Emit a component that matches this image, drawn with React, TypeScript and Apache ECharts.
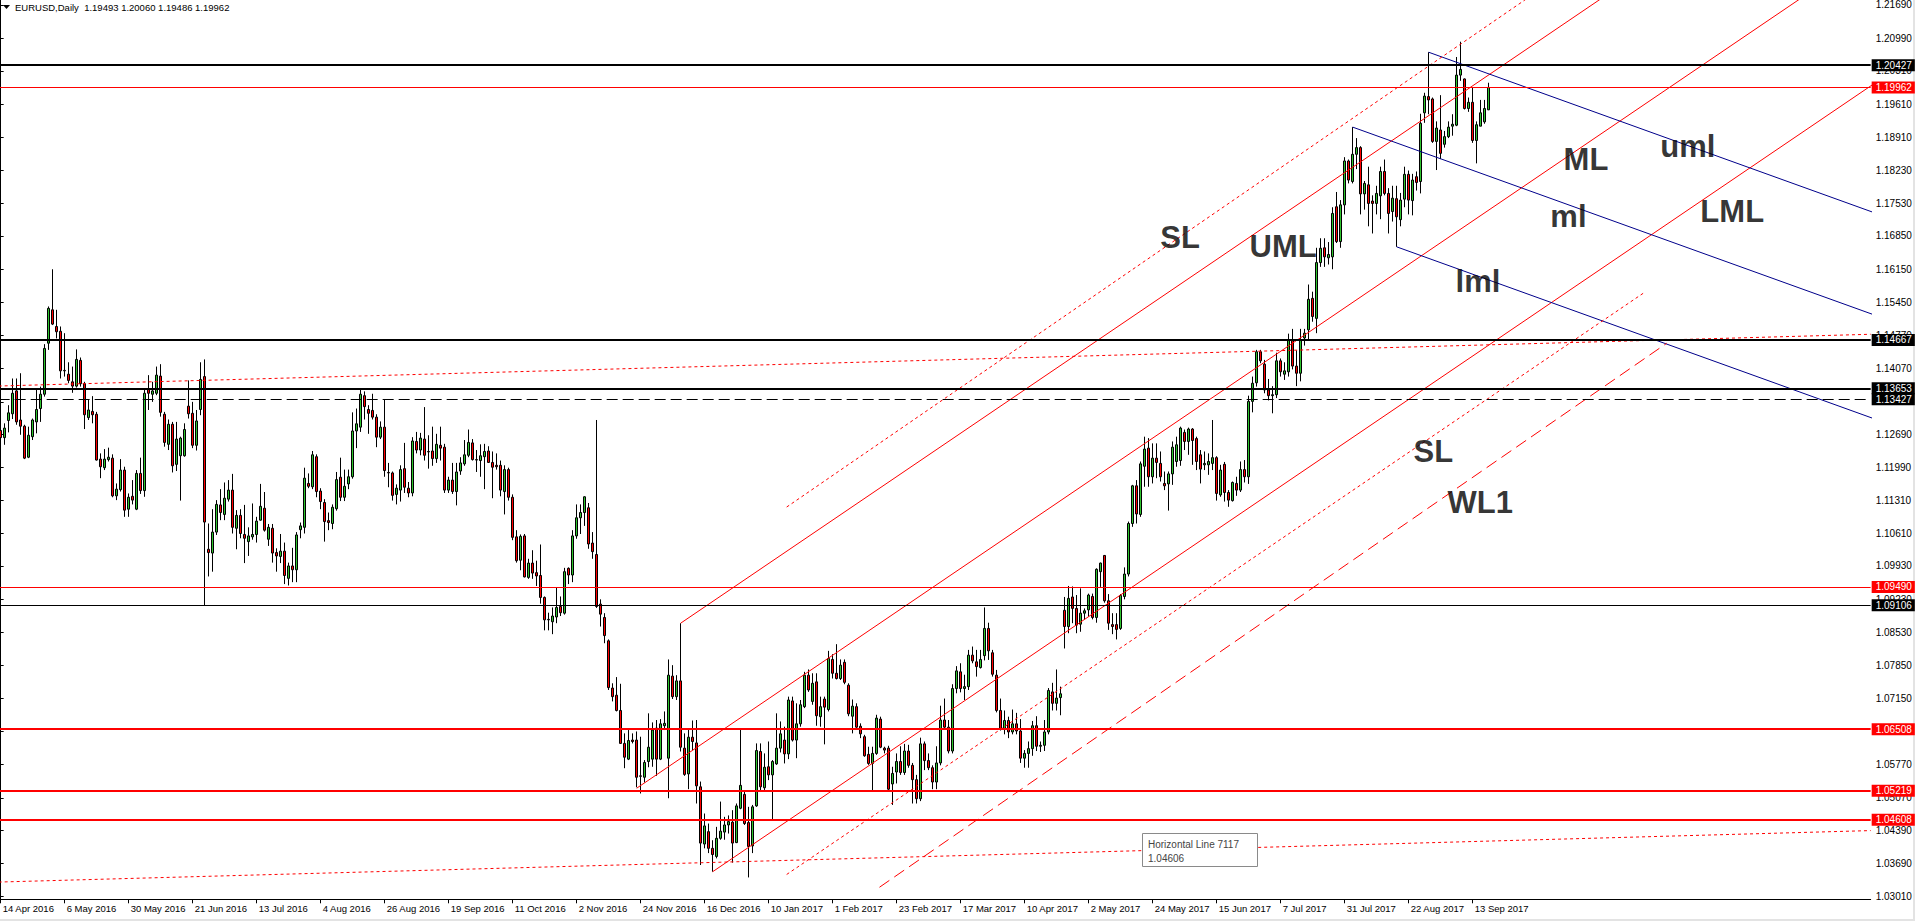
import React, { useEffect, useRef } from "react";
import * as echarts from "echarts";

// ---------- categories (trading days) ----------
const FIRST_DAY = "2016-04-14";
const SKIPPED_DAYS = ["2016-12-26"];
const BAR_COUNT = 373;
const SLOT_COUNT = 468;
const LABEL_EVERY = 16;
const MONTHS = ["Jan", "Feb", "Mar", "Apr", "May", "Jun", "Jul", "Aug", "Sep", "Oct", "Nov", "Dec"];

// ---------- price scale ----------
const PRICE_TOP = 1.217948;
const PRICE_BOTTOM = 1.029415;
const priceTicks = [
  1.2169, 1.2099, 1.2031, 1.1961, 1.1891, 1.1823, 1.1753, 1.1685, 1.1615, 1.1545, 1.1477, 1.1407, 1.1337, 1.1269,
  1.1199, 1.1131, 1.1061, 1.0993, 1.0923, 1.0853, 1.0785, 1.0715, 1.0647, 1.0577, 1.0507, 1.0439, 1.0369, 1.0301,
];

// ---------- daily candles [open, high, low, close] ----------
const candlesAprJun2016 = [
  [1.1277, 1.1289, 1.1233, 1.1262], [1.1262, 1.1292, 1.1247, 1.1282], [1.1298, 1.133, 1.1273, 1.1314], [1.1312, 1.1386, 1.1301, 1.1355],
  [1.136, 1.1386, 1.1289, 1.1295], [1.1299, 1.1397, 1.1268, 1.1286], [1.1286, 1.1289, 1.1217, 1.1219], [1.1221, 1.1285, 1.1219, 1.1267],
  [1.1264, 1.1302, 1.1257, 1.1299], [1.1295, 1.1362, 1.1271, 1.1321], [1.1323, 1.1369, 1.1295, 1.1353], [1.1353, 1.1458, 1.1348, 1.1449],
  [1.146, 1.1537, 1.1446, 1.1533], [1.153, 1.1615, 1.1498, 1.15], [1.1495, 1.153, 1.147, 1.1484], [1.1485, 1.1495, 1.1386, 1.1402],
  [1.1403, 1.1481, 1.139, 1.1402], [1.1395, 1.142, 1.1376, 1.1382], [1.1379, 1.1411, 1.1356, 1.137], [1.137, 1.1447, 1.1367, 1.1426],
  [1.1424, 1.143, 1.1369, 1.1375], [1.1375, 1.1379, 1.128, 1.131], [1.1304, 1.1341, 1.1299, 1.132], [1.1317, 1.1349, 1.1292, 1.131],
  [1.1311, 1.1316, 1.1214, 1.1215], [1.1217, 1.1229, 1.1177, 1.1201], [1.1199, 1.1238, 1.1194, 1.1217], [1.1216, 1.1241, 1.1212, 1.1221],
  [1.1219, 1.1227, 1.1137, 1.114], [1.114, 1.1166, 1.1131, 1.1154], [1.1153, 1.1217, 1.1149, 1.1194], [1.1194, 1.1201, 1.1096, 1.111],
  [1.1112, 1.1145, 1.1096, 1.1137], [1.1139, 1.1173, 1.1122, 1.1131], [1.1112, 1.1194, 1.111, 1.1187], [1.1187, 1.122, 1.1144, 1.1151],
  [1.1151, 1.1362, 1.1138, 1.1355], [1.1365, 1.1393, 1.132, 1.1355], [1.1353, 1.1379, 1.1337, 1.136], [1.1355, 1.1411, 1.1351, 1.1393],
  [1.1391, 1.1416, 1.1306, 1.1315], [1.1311, 1.1316, 1.1243, 1.1252], [1.1248, 1.13, 1.1236, 1.129], [1.129, 1.1295, 1.1189, 1.1203],
  [1.1206, 1.1295, 1.1192, 1.1259], [1.1224, 1.1264, 1.113, 1.1261], [1.1224, 1.1292, 1.1222, 1.1279], [1.1328, 1.1382, 1.1302, 1.1312],
  [1.1313, 1.1337, 1.124, 1.1246], [1.1246, 1.132, 1.1235, 1.1297], [1.1321, 1.142, 1.1309, 1.1384], [1.139, 1.1426, 1.0911, 1.1085],
];
const candlesJunSep2016 = [
  [1.1028, 1.1082, 1.0971, 1.1021], [1.102, 1.1112, 1.0981, 1.1064], [1.1064, 1.1131, 1.1058, 1.1122], [1.1121, 1.1154, 1.1089, 1.1105],
  [1.1101, 1.1168, 1.1089, 1.1135], [1.1133, 1.1173, 1.1128, 1.1152], [1.1152, 1.1186, 1.1061, 1.1074], [1.1072, 1.111, 1.1028, 1.1099],
  [1.1099, 1.1112, 1.1051, 1.1061], [1.1059, 1.1121, 1.0999, 1.1051], [1.1044, 1.1074, 1.1014, 1.1056], [1.1054, 1.1124, 1.1048, 1.1059],
  [1.1059, 1.1096, 1.1042, 1.1087], [1.1089, 1.1165, 1.1088, 1.1118], [1.1114, 1.1148, 1.1065, 1.1068], [1.1049, 1.1081, 1.1035, 1.1074],
  [1.1072, 1.1081, 1.1, 1.102], [1.1021, 1.103, 1.0981, 1.1014], [1.1013, 1.106, 1.0999, 1.1024], [1.1024, 1.1042, 1.0955, 1.0973],
  [1.0967, 1.1, 1.0952, 1.0993], [1.0993, 1.1031, 1.0959, 1.0985], [1.0985, 1.1064, 1.0959, 1.1058], [1.1069, 1.1084, 1.1051, 1.1077],
  [1.1074, 1.1199, 1.1061, 1.1177], [1.1166, 1.1187, 1.1156, 1.116], [1.1159, 1.1234, 1.1154, 1.1226], [1.1222, 1.1227, 1.1137, 1.1149],
  [1.115, 1.1156, 1.1112, 1.1128], [1.1126, 1.1133, 1.1044, 1.1086], [1.1088, 1.1105, 1.1068, 1.1084], [1.1082, 1.1122, 1.107, 1.1116],
  [1.1113, 1.119, 1.1109, 1.1174], [1.1179, 1.122, 1.1129, 1.1137], [1.1137, 1.1195, 1.1129, 1.116], [1.1165, 1.1195, 1.1154, 1.118],
  [1.118, 1.1315, 1.1176, 1.1276], [1.1276, 1.1323, 1.124, 1.1291], [1.1284, 1.1364, 1.1274, 1.1353], [1.135, 1.1359, 1.13, 1.1327],
  [1.1321, 1.133, 1.127, 1.1313], [1.1319, 1.1354, 1.13, 1.1305], [1.1305, 1.1311, 1.1242, 1.1263], [1.1263, 1.1296, 1.1259, 1.1284],
  [1.1284, 1.1343, 1.118, 1.1193], [1.1189, 1.1209, 1.1158, 1.1188], [1.1188, 1.1191, 1.113, 1.1141], [1.1143, 1.1164, 1.1122, 1.1156],
  [1.1152, 1.1204, 1.1128, 1.1195], [1.1197, 1.1251, 1.1146, 1.1158], [1.1156, 1.1169, 1.1137, 1.1146], [1.1146, 1.1263, 1.1139, 1.1255],
];
const candlesSepNov2016 = [
  [1.1254, 1.1274, 1.1229, 1.1236], [1.1236, 1.1272, 1.1225, 1.1261], [1.1259, 1.1326, 1.1214, 1.1225], [1.1233, 1.1267, 1.1197, 1.1232],
  [1.1234, 1.1285, 1.1203, 1.1218], [1.1218, 1.127, 1.1209, 1.1248], [1.1246, 1.1285, 1.1214, 1.124], [1.1242, 1.1249, 1.1146, 1.1152],
  [1.1152, 1.118, 1.1146, 1.1173], [1.1173, 1.1209, 1.1144, 1.1149], [1.1149, 1.1209, 1.112, 1.119], [1.1192, 1.1221, 1.1184, 1.1209],
  [1.1207, 1.1257, 1.1203, 1.1226], [1.1225, 1.1279, 1.1221, 1.1252], [1.1251, 1.1259, 1.1214, 1.1216], [1.1216, 1.1236, 1.119, 1.1215],
  [1.1214, 1.1248, 1.118, 1.1224], [1.1222, 1.1249, 1.1154, 1.1233], [1.1234, 1.1244, 1.1209, 1.121], [1.121, 1.1233, 1.1135, 1.12],
  [1.1204, 1.1229, 1.1195, 1.1201], [1.1204, 1.1214, 1.1139, 1.1152], [1.1149, 1.1204, 1.1101, 1.1195], [1.1195, 1.1199, 1.113, 1.1137],
  [1.1137, 1.1143, 1.1047, 1.1053], [1.1054, 1.1068, 1.1, 1.1004], [1.1005, 1.1059, 1.0984, 1.1055], [1.1056, 1.106, 1.0969, 1.097],
  [1.0969, 1.1008, 1.0966, 1.0999], [1.0999, 1.1026, 1.0966, 1.0978], [1.0979, 1.1004, 1.0951, 1.0972], [1.0973, 1.1038, 1.0914, 1.0927],
  [1.0927, 1.0929, 1.0858, 1.088], [1.0881, 1.0895, 1.0858, 1.088], [1.0876, 1.0906, 1.085, 1.0888], [1.0886, 1.0948, 1.0873, 1.0906],
  [1.0908, 1.0929, 1.0888, 1.0895], [1.0894, 1.0989, 1.0891, 1.0981], [1.0988, 1.099, 1.0955, 1.0974], [1.0974, 1.1068, 1.0959, 1.1056],
  [1.1056, 1.1122, 1.105, 1.1094], [1.1094, 1.1122, 1.106, 1.1105], [1.1105, 1.1139, 1.1077, 1.1138], [1.1115, 1.1125, 1.1029, 1.1039],
  [1.1041, 1.1064, 1.1008, 1.1023], [1.1017, 1.1299, 1.0905, 1.0908], [1.0913, 1.0923, 1.0866, 1.0892], [1.0885, 1.0894, 1.0831, 1.0847],
  [1.0836, 1.0839, 1.0733, 1.0738], [1.0737, 1.0747, 1.0709, 1.0719], [1.0722, 1.076, 1.0688, 1.069], [1.069, 1.0746, 1.062, 1.0621],
];
const candlesNov2016Feb2017 = [
  [1.0621, 1.0642, 1.0569, 1.0592], [1.0588, 1.0649, 1.0586, 1.0627], [1.0628, 1.0642, 1.0621, 1.0625], [1.0628, 1.0646, 1.0529, 1.055],
  [1.0553, 1.0635, 1.0516, 1.0552], [1.055, 1.0586, 1.0539, 1.0581], [1.0583, 1.0684, 1.0571, 1.0613], [1.0588, 1.0665, 1.0572, 1.0649],
  [1.0653, 1.067, 1.0553, 1.0588], [1.0588, 1.0672, 1.0586, 1.0662], [1.0658, 1.0688, 1.0649, 1.0663], [1.059, 1.0797, 1.0506, 1.0764],
  [1.0762, 1.0785, 1.0714, 1.0719], [1.0719, 1.0764, 1.0712, 1.0752], [1.0752, 1.0873, 1.0604, 1.0613], [1.0611, 1.0642, 1.0553, 1.0556],
  [1.0557, 1.065, 1.0525, 1.0634], [1.0634, 1.0669, 1.0607, 1.0625], [1.0622, 1.067, 1.0495, 1.0532], [1.053, 1.0541, 1.0366, 1.0412],
  [1.041, 1.0474, 1.0401, 1.0448], [1.0436, 1.0453, 1.0391, 1.0401], [1.0401, 1.0418, 1.0352, 1.0388], [1.0384, 1.0446, 1.038, 1.0422],
  [1.0422, 1.0499, 1.0419, 1.0437], [1.0435, 1.0467, 1.0419, 1.045], [1.045, 1.047, 1.0432, 1.0457], [1.0456, 1.0481, 1.0371, 1.0412],
  [1.0413, 1.0495, 1.0412, 1.049], [1.0485, 1.065, 1.0483, 1.0533], [1.0514, 1.052, 1.045, 1.0453], [1.0455, 1.0488, 1.034, 1.0405],
  [1.0406, 1.0492, 1.0391, 1.0488], [1.049, 1.0621, 1.0488, 1.0606], [1.0604, 1.0621, 1.0523, 1.053], [1.0528, 1.06, 1.0523, 1.0571],
  [1.0572, 1.0625, 1.0544, 1.0555], [1.0555, 1.0586, 1.046, 1.0583], [1.0578, 1.0684, 1.0576, 1.0611], [1.0611, 1.0667, 1.0602, 1.0641],
  [1.0628, 1.0656, 1.0579, 1.0599], [1.0599, 1.0719, 1.0588, 1.0712], [1.071, 1.0719, 1.0625, 1.0628], [1.0628, 1.0705, 1.059, 1.0662],
  [1.0662, 1.0712, 1.0656, 1.0702], [1.0698, 1.0771, 1.0695, 1.0764], [1.0764, 1.0776, 1.0729, 1.0733], [1.0709, 1.0768, 1.0702, 1.0747],
  [1.075, 1.0768, 1.0658, 1.0679], [1.0677, 1.0719, 1.0656, 1.0698], [1.0714, 1.0719, 1.0619, 1.0697], [1.0692, 1.0815, 1.0688, 1.0799],
];
const candlesFebApr2017 = [
  [1.0797, 1.0808, 1.0757, 1.0768], [1.0768, 1.0829, 1.0755, 1.0757], [1.0757, 1.0797, 1.0754, 1.0785], [1.0791, 1.0797, 1.0745, 1.0749],
  [1.0743, 1.0747, 1.0678, 1.0683], [1.0678, 1.0713, 1.0642, 1.0699], [1.0698, 1.0705, 1.0652, 1.0655], [1.0657, 1.0663, 1.0632, 1.0641],
  [1.0635, 1.0639, 1.0593, 1.0595], [1.0598, 1.0614, 1.0576, 1.0579], [1.0579, 1.0614, 1.052, 1.06], [1.06, 1.0681, 1.0597, 1.0674],
  [1.0672, 1.0677, 1.0611, 1.0613], [1.0611, 1.0614, 1.06, 1.0607], [1.0611, 1.0616, 1.0523, 1.0525], [1.0536, 1.0572, 1.0492, 1.0558],
  [1.0561, 1.06, 1.0537, 1.0583], [1.0583, 1.0615, 1.0555, 1.056], [1.056, 1.062, 1.0555, 1.0605], [1.0605, 1.0618, 1.057, 1.0575],
  [1.0575, 1.058, 1.0495, 1.0545], [1.0545, 1.0555, 1.0495, 1.0505], [1.0505, 1.0633, 1.05, 1.062], [1.062, 1.0625, 1.0565, 1.0585],
  [1.0585, 1.06, 1.0565, 1.057], [1.057, 1.0575, 1.0525, 1.054], [1.054, 1.0615, 1.0525, 1.058], [1.058, 1.07, 1.0575, 1.067],
  [1.067, 1.0715, 1.065, 1.0655], [1.0655, 1.067, 1.06, 1.0605], [1.0605, 1.0745, 1.06, 1.0736], [1.0736, 1.0783, 1.0726, 1.0773],
  [1.0771, 1.0789, 1.0728, 1.0736], [1.0736, 1.0765, 1.0712, 1.074], [1.074, 1.0817, 1.0733, 1.0806], [1.0806, 1.0824, 1.0789, 1.0794],
  [1.0792, 1.0817, 1.0761, 1.0782], [1.078, 1.0817, 1.0778, 1.0797], [1.0805, 1.0906, 1.0795, 1.0862], [1.0862, 1.0874, 1.0796, 1.0815],
  [1.0811, 1.0817, 1.0761, 1.0766], [1.0764, 1.0775, 1.0686, 1.069], [1.069, 1.0715, 1.0648, 1.0651], [1.0651, 1.069, 1.064, 1.0669],
  [1.0669, 1.0677, 1.0632, 1.0645], [1.0645, 1.0692, 1.064, 1.0662], [1.0662, 1.0685, 1.064, 1.0647], [1.0647, 1.0672, 1.058, 1.059],
  [1.059, 1.0607, 1.057, 1.06], [1.06, 1.0625, 1.057, 1.061], [1.061, 1.0668, 1.0595, 1.0658], [1.0658, 1.0678, 1.0605, 1.0615],
];
const candlesAprJun2017 = [
  [1.0615, 1.0625, 1.0603, 1.0617], [1.0617, 1.067, 1.0605, 1.0645], [1.0645, 1.0737, 1.064, 1.0732], [1.0729, 1.0748, 1.069, 1.0705],
  [1.0705, 1.0776, 1.069, 1.0716], [1.0717, 1.074, 1.068, 1.0725], [1.09, 1.0928, 1.082, 1.0866], [1.0866, 1.0951, 1.0852, 1.0925],
  [1.0928, 1.095, 1.0873, 1.0904], [1.0904, 1.0932, 1.0852, 1.0869], [1.0871, 1.0946, 1.0855, 1.0894], [1.0894, 1.0904, 1.088, 1.0899],
  [1.0901, 1.0935, 1.0887, 1.0932], [1.0929, 1.0935, 1.0881, 1.0885], [1.0885, 1.0988, 1.0874, 1.0986], [1.0981, 1.1, 1.0949, 1.0999],
  [1.1015, 1.1016, 1.0916, 1.092], [1.092, 1.0934, 1.0859, 1.0873], [1.087, 1.0894, 1.085, 1.0866], [1.087, 1.0894, 1.0839, 1.086],
  [1.0862, 1.0934, 1.0859, 1.0931], [1.0929, 1.099, 1.0923, 1.0976], [1.0976, 1.1086, 1.0971, 1.1082], [1.1082, 1.1163, 1.1075, 1.1161],
  [1.1161, 1.1173, 1.1082, 1.1102], [1.1101, 1.1212, 1.1096, 1.1207], [1.1202, 1.1264, 1.1159, 1.1238], [1.124, 1.1261, 1.1159, 1.118],
  [1.118, 1.125, 1.1166, 1.1219], [1.1219, 1.125, 1.1177, 1.121], [1.1208, 1.1233, 1.117, 1.118], [1.1166, 1.1191, 1.1152, 1.1161],
  [1.1165, 1.1191, 1.1109, 1.1186], [1.1186, 1.1254, 1.1163, 1.1242], [1.1212, 1.1264, 1.1201, 1.1247], [1.1214, 1.1285, 1.1203, 1.1282],
  [1.1273, 1.1279, 1.1236, 1.1254], [1.1254, 1.1283, 1.1226, 1.128], [1.128, 1.1282, 1.1205, 1.1256], [1.126, 1.1264, 1.1194, 1.1212],
  [1.1226, 1.1236, 1.1166, 1.1196], [1.1205, 1.1233, 1.1194, 1.1208], [1.1205, 1.1229, 1.1184, 1.1212], [1.1208, 1.1299, 1.1194, 1.122],
  [1.122, 1.1223, 1.113, 1.1145], [1.1142, 1.1205, 1.1138, 1.1194], [1.1206, 1.1211, 1.1128, 1.1147], [1.1147, 1.1152, 1.1117, 1.1131],
  [1.113, 1.117, 1.1128, 1.1168], [1.1166, 1.118, 1.114, 1.1152], [1.1152, 1.1212, 1.1148, 1.1195], [1.1195, 1.1215, 1.1168, 1.118],
];
const candlesJunSep2017 = [
  [1.118, 1.135, 1.1165, 1.1338], [1.1338, 1.139, 1.1315, 1.1376], [1.1377, 1.1446, 1.1369, 1.1442], [1.1442, 1.1446, 1.1418, 1.1423],
  [1.1416, 1.1425, 1.1355, 1.1362], [1.1362, 1.1385, 1.134, 1.135], [1.135, 1.137, 1.1313, 1.1352], [1.1352, 1.144, 1.1345, 1.1423],
  [1.1423, 1.1428, 1.139, 1.14], [1.1395, 1.142, 1.1383, 1.1402], [1.14, 1.148, 1.139, 1.1467], [1.1467, 1.149, 1.1405, 1.1412],
  [1.1412, 1.1445, 1.137, 1.1397], [1.1397, 1.149, 1.138, 1.1467], [1.1471, 1.149, 1.1455, 1.1481], [1.1488, 1.1583, 1.1465, 1.1552],
  [1.1554, 1.1568, 1.1505, 1.1516], [1.1512, 1.166, 1.1481, 1.1629], [1.1629, 1.168, 1.162, 1.1659], [1.166, 1.168, 1.162, 1.1641],
  [1.1639, 1.1672, 1.1625, 1.1646], [1.1641, 1.1745, 1.1615, 1.1732], [1.1746, 1.1777, 1.167, 1.1673], [1.1673, 1.176, 1.166, 1.175],
  [1.175, 1.185, 1.173, 1.1842], [1.1842, 1.1845, 1.1795, 1.1802], [1.1799, 1.1913, 1.1795, 1.1856], [1.1856, 1.189, 1.1825, 1.187],
  [1.187, 1.1873, 1.173, 1.1773], [1.1773, 1.18, 1.174, 1.1795], [1.1792, 1.183, 1.1705, 1.1753], [1.1758, 1.177, 1.169, 1.1753],
  [1.1753, 1.179, 1.173, 1.1774], [1.1769, 1.183, 1.172, 1.182], [1.182, 1.1845, 1.177, 1.1774], [1.1774, 1.1785, 1.169, 1.1732],
  [1.1736, 1.179, 1.1715, 1.1764], [1.1763, 1.179, 1.1662, 1.1725], [1.1719, 1.1775, 1.1705, 1.176], [1.1762, 1.183, 1.1745, 1.1814],
  [1.1814, 1.1822, 1.173, 1.176], [1.1759, 1.1815, 1.1728, 1.1802], [1.1809, 1.182, 1.178, 1.1797], [1.1799, 1.1941, 1.1774, 1.1921],
  [1.1943, 1.1985, 1.1922, 1.1978], [1.1977, 1.207, 1.194, 1.197], [1.1972, 1.1975, 1.188, 1.1883], [1.1883, 1.1925, 1.1823, 1.1911],
  [1.1907, 1.198, 1.1846, 1.1858], [1.1877, 1.1905, 1.187, 1.1893], [1.1893, 1.1925, 1.189, 1.1913], [1.1915, 1.194, 1.1895, 1.1919],
  [1.1917, 1.206, 1.1915, 1.2022], [1.2022, 1.2092, 1.201, 1.2034], [1.2014, 1.2015, 1.195, 1.1952], [1.1952, 1.1975, 1.1945, 1.1965],
  [1.1965, 1.1995, 1.188, 1.1885], [1.1885, 1.1925, 1.1837, 1.1918], [1.1915, 1.197, 1.1915, 1.1943], [1.1924, 1.197, 1.192, 1.1952],
  [1.19493, 1.2006, 1.19486, 1.19962],
];

// ---------- horizontal levels ----------
const levelPrices = [1.20427, 1.19962, 1.14667, 1.13653, 1.13427, 1.0949, 1.09106, 1.06508, 1.05219, 1.04608];
const levelColors = ["#000000", "#ff0000", "#000000", "#000000", "#000000", "#ff0000", "#000000", "#ff0000", "#ff0000", "#ff0000"];
const levelWidths = [2, 1, 2, 2, 1, 1, 1, 2, 2, 2];
const levelDashed = [false, false, false, false, true, false, false, false, false, false];

// ---------- drawn objects, as [bar index, price] pairs ----------
const redForkLines = [
  [[170, 1.0873], [480, 1.26369]],
  [[159, 1.0527], [480, 1.23535]],
  [[178, 1.0352], [480, 1.20704]],
];
const blueForkLines = [
  [[357, 1.207], [480, 1.16985]],
  [[338, 1.1913], [480, 1.14842]],
  [[349, 1.1662], [480, 1.12664]],
];
const redDottedLines = [
  [[196.5, 1.11165], [480, 1.27495]],
  [[196.5, 1.03462], [411.1, 1.15673]],
  [[-0.5, 1.13702], [467.5, 1.14787]],
  [[-0.5, 1.03303], [467.5, 1.04382]],
];
const redDashedLines = [[[219.7, 1.03194], [416.5, 1.14598]]];

const noteTexts = ["SL", "UML", "ML", "uml", "ml", "LML", "lml", "SL", "WL1"];
const noteBars = [289.8, 312.1, 390.6, 414.8, 387.3, 424.8, 363.6, 353.1, 361.6];
const notePrices = [1.16814, 1.16625, 1.18449, 1.18721, 1.17254, 1.17359, 1.15891, 1.12327, 1.11258];

const FONT = "'Liberation Sans', Arial, sans-serif";

function buildCategories(): string[] {
  const out: string[] = [];
  const d = new Date(FIRST_DAY + "T00:00:00Z");
  while (out.length < BAR_COUNT) {
    const dow = d.getUTCDay();
    const iso = d.toISOString().slice(0, 10);
    if (dow !== 0 && dow !== 6 && SKIPPED_DAYS.indexOf(iso) < 0) {
      out.push(`${d.getUTCDate()} ${MONTHS[d.getUTCMonth()]} ${d.getUTCFullYear()}`);
    }
    d.setUTCDate(d.getUTCDate() + 1);
  }
  for (let i = BAR_COUNT; i < SLOT_COUNT; i++) out.push(`slot${i}`);
  return out;
}

function lineSeries(lines: number[][][], color: string, type: any) {
  return lines.map((pts) => ({
    type: "line",
    xAxisIndex: 1,
    yAxisIndex: 0,
    data: pts,
    showSymbol: false,
    symbol: "none",
    silent: true,
    clip: true,
    z: 4,
    lineStyle: { color, width: 1, type },
    emphasis: { disabled: true },
  }));
}

export default function App() {
  const ref = useRef<HTMLDivElement>(null);

  useEffect(() => {
    document.body.style.margin = "0";
    document.body.style.overflow = "hidden";
    if (!ref.current) return;
    const chart = echarts.init(ref.current, undefined, { renderer: "svg" });

    const categories = buildCategories();
    const rows = [
      ...candlesAprJun2016,
      ...candlesJunSep2016,
      ...candlesSepNov2016,
      ...candlesNov2016Feb2017,
      ...candlesFebApr2017,
      ...candlesAprJun2017,
      ...candlesJunSep2017,
    ];
    const candleData = rows.map(([o, h, l, c]) => [o, c, l, h]);
    const showLabel = (idx: number) => idx % LABEL_EVERY === 0 && idx < BAR_COUNT;

    const option: any = {
      animation: false,
      backgroundColor: "#ffffff",
      textStyle: { fontFamily: FONT },
      grid: { left: -1.33, top: 0, width: 1872, height: 899.3, outerBoundsMode: "none", containLabel: false },
      xAxis: [
        {
          type: "category",
          data: categories,
          boundaryGap: true,
          axisLine: { show: true, lineStyle: { color: "#000", width: 1 } },
          axisTick: { show: true, interval: showLabel, alignWithLabel: true, length: 4, lineStyle: { color: "#000" } },
          axisLabel: {
            interval: showLabel,
            align: "left",
            margin: 4,
            padding: [0, 0, 0, 2],
            color: "#000",
            fontSize: 9.5,
            fontFamily: FONT,
          },
          splitLine: { show: false },
        },
        { type: "value", min: -0.5, max: SLOT_COUNT - 0.5, show: false },
      ],
      yAxis: {
        type: "value",
        position: "right",
        min: PRICE_BOTTOM,
        max: PRICE_TOP,
        scale: true,
        axisLine: { show: true, lineStyle: { color: "#000", width: 1 } },
        axisTick: { show: true, customValues: priceTicks, length: 3, lineStyle: { color: "#000" } },
        axisLabel: {
          customValues: priceTicks,
          formatter: (v: number) => v.toFixed(5),
          margin: 5,
          color: "#000",
          fontSize: 10,
          fontFamily: FONT,
        },
        splitLine: { show: false },
      },
      series: [
        {
          type: "candlestick",
          xAxisIndex: 0,
          yAxisIndex: 0,
          data: candleData,
          barWidth: 3,
          silent: true,
          itemStyle: {
            color: "#2ec52e",
            color0: "#ff0000",
            borderColor: "#000000",
            borderColor0: "#000000",
            borderWidth: 1,
          },
          markLine: {
            silent: true,
            symbol: ["none", "none"],
            precision: 5,
            animation: false,
            z: 5,
            data: levelPrices.map((p, k) => ({
              yAxis: p,
              lineStyle: { color: levelColors[k], width: levelWidths[k], type: levelDashed[k] ? [11, 5] : "solid" },
              label: {
                show: true,
                position: "end",
                distance: 1,
                formatter: () => levelPrices[k].toFixed(5),
                color: "#ffffff",
                backgroundColor: levelColors[k],
                padding: [1, 3, 0, 4],
                fontSize: 10,
                lineHeight: 11,
                fontFamily: FONT,
              },
            })),
          },
        },
        ...lineSeries(redForkLines, "#ff0000", "solid"),
        ...lineSeries(blueForkLines, "#00008b", "solid"),
        ...lineSeries(redDottedLines, "#ff0000", [3, 3]),
        ...lineSeries(redDashedLines, "#ff0000", [12, 6]),
        {
          type: "scatter",
          xAxisIndex: 1,
          yAxisIndex: 0,
          silent: true,
          z: 6,
          symbolSize: 1,
          itemStyle: { color: "rgba(0,0,0,0)" },
          data: noteTexts.map((t, k) => ({ name: t, value: [noteBars[k], notePrices[k]] })),
          label: {
            show: true,
            position: "right",
            distance: 0,
            formatter: "{b}",
            color: "#000",
            fontSize: 31,
            fontWeight: "bold",
            fontFamily: FONT,
          },
        },
      ],
      graphic: [
        { type: "polygon", shape: { points: [[3, 5], [10, 5], [6.5, 9]] }, style: { fill: "#000" } },
        {
          type: "text",
          x: 15,
          y: 7.5,
          style: {
            text: "EURUSD,Daily  1.19493 1.20060 1.19486 1.19962",
            fill: "#000",
            font: `9.5px ${FONT}`,
            verticalAlign: "middle",
            textVerticalAlign: "middle",
          },
        },
        {
          type: "rect",
          shape: { x: 1142.5, y: 833.5, width: 115, height: 33 },
          style: { fill: "#ffffff", stroke: "#8a8a8a", lineWidth: 1 },
          z: 10,
        },
        {
          type: "text",
          x: 1148,
          y: 844,
          z: 11,
          style: { text: "Horizontal Line 7117", fill: "#444", font: `10px ${FONT}`, verticalAlign: "middle", textVerticalAlign: "middle" },
        },
        {
          type: "text",
          x: 1148,
          y: 858,
          z: 11,
          style: { text: "1.04606", fill: "#444", font: `10px ${FONT}`, verticalAlign: "middle", textVerticalAlign: "middle" },
        },
        { type: "rect", shape: { x: 1913, y: 0, width: 2, height: 921 }, style: { fill: "#e3e3e3" } },
        { type: "rect", shape: { x: 0, y: 919, width: 1915, height: 2 }, style: { fill: "#e3e3e3" } },
      ],
    };

    chart.setOption(option);
    return () => chart.dispose();
  }, []);

  return <div ref={ref} style={{ position: "absolute", left: 0, top: 0, width: 1915, height: 921 }} />;
}
